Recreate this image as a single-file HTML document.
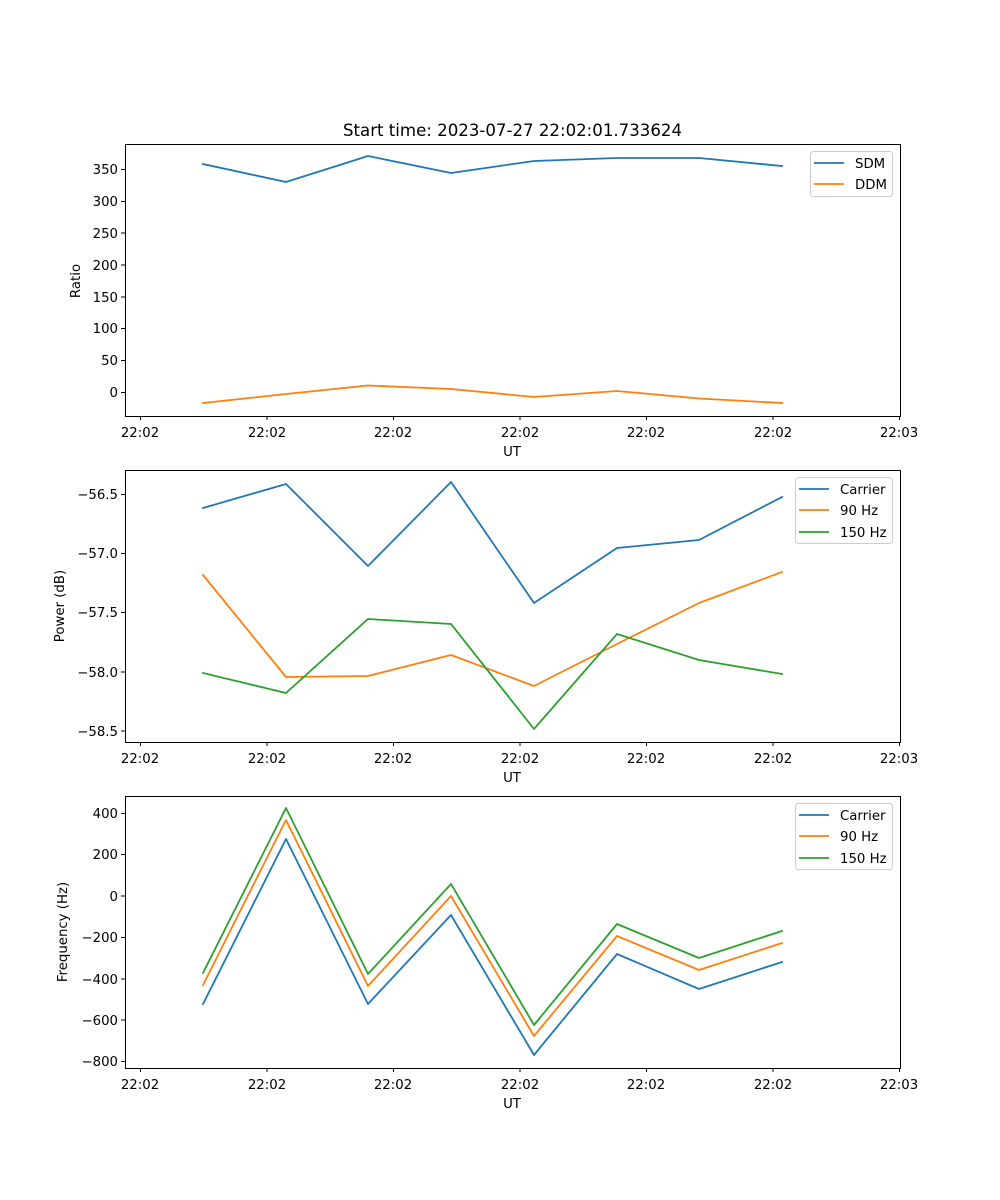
<!DOCTYPE html>
<html><head><meta charset="utf-8"><style>body{margin:0;background:#fff}svg{display:block}text{font-family:"DejaVu Sans","Liberation Sans",sans-serif;font-size:13.3px;fill:#000}</style></head><body>
<svg width="1000" height="1200" xmlns="http://www.w3.org/2000/svg">
<g fill="none" stroke-linejoin="round" stroke-linecap="square">
<polyline stroke="#1f77b4" stroke-width="1.8" points="203,164 286,182 368,156 451,173 534,161 617,158 699,158 782,166"/>
<polyline stroke="#ff7f0e" stroke-width="1.8" points="203,403 286,394 368,385.5 451,389 534,397 617,391 699,398.5 782,403"/>
<polyline stroke="#1f77b4" stroke-width="1.8" points="203,508 286,484 368,566 451,482 534,603 617,548 699,540 782,497"/>
<polyline stroke="#ff7f0e" stroke-width="1.8" points="203,575 286,677 368,676 451,655 534,686 617,644 699,603 782,572"/>
<polyline stroke="#2ca02c" stroke-width="1.8" points="203,673 286,693 368,619 451,624 534,729 617,634 699,660 782,674"/>
<polyline stroke="#1f77b4" stroke-width="1.8" points="203,1004 286,839 368,1004 451,915 534,1055 617,954 699,989 782,962"/>
<polyline stroke="#ff7f0e" stroke-width="1.8" points="203,985 286,820 368,986 451,896 534,1036 617,936 699,970 782,943"/>
<polyline stroke="#2ca02c" stroke-width="1.8" points="203,973 286,808 368,974 451,884 534,1025 617,924 699,958 782,931"/>
</g>
<g fill="none" stroke="#000" stroke-width="1">
<rect x="125.5" y="144.5" width="775" height="272"/>
<rect x="125.5" y="470.5" width="775" height="272"/>
<rect x="125.5" y="796.5" width="775" height="272"/>
<path d="M140.5,416v4M267,416v4M393.5,416v4M520,416v4M646.5,416v4M773,416v4M899.5,416v4
M140.5,742v4M267,742v4M393.5,742v4M520,742v4M646.5,742v4M773,742v4M899.5,742v4
M140.5,1068v4M267,1068v4M393.5,1068v4M520,1068v4M646.5,1068v4M773,1068v4M899.5,1068v4
M125,169.5h-4M125,201.5h-4M125,233h-4M125,265h-4M125,297h-4M125,328.5h-4M125,360.5h-4M125,392.5h-4
M125,494.5h-4M125,553.5h-4M125,612.5h-4M125,672h-4M125,731h-4
M125,813.5h-4M125,854.5h-4M125,896h-4M125,937.5h-4M125,979h-4M125,1020h-4M125,1061.5h-4"/>
</g>
<g text-anchor="middle">
<text x="140" y="437">22:02</text><text x="267" y="437">22:02</text><text x="393" y="437">22:02</text><text x="520" y="437">22:02</text><text x="646" y="437">22:02</text><text x="773" y="437">22:02</text><text x="899" y="437">22:03</text>
<text x="140" y="763">22:02</text><text x="267" y="763">22:02</text><text x="393" y="763">22:02</text><text x="520" y="763">22:02</text><text x="646" y="763">22:02</text><text x="773" y="763">22:02</text><text x="899" y="763">22:03</text>
<text x="140" y="1089">22:02</text><text x="267" y="1089">22:02</text><text x="393" y="1089">22:02</text><text x="520" y="1089">22:02</text><text x="646" y="1089">22:02</text><text x="773" y="1089">22:02</text><text x="899" y="1089">22:03</text>
<text x="512" y="456">UT</text><text x="512" y="782">UT</text><text x="512" y="1108">UT</text>
<text x="512.5" y="136" style="font-size:16.6px">Start time: 2023-07-27 22:02:01.733624</text>
</g>
<g text-anchor="end">
<text x="118" y="174">350</text><text x="118" y="206">300</text><text x="118" y="238">250</text><text x="118" y="270">200</text><text x="118" y="302">150</text><text x="118" y="333">100</text><text x="118" y="365">50</text><text x="118" y="397">0</text>
<text x="118" y="499">−56.5</text><text x="118" y="558">−57.0</text><text x="118" y="617">−57.5</text><text x="118" y="677">−58.0</text><text x="118" y="736">−58.5</text>
<text x="118" y="818">400</text><text x="118" y="859">200</text><text x="118" y="901">0</text><text x="118" y="942">−200</text><text x="118" y="984">−400</text><text x="118" y="1025">−600</text><text x="118" y="1066">−800</text>
</g>
<text transform="translate(80,281) rotate(-90)" text-anchor="middle">Ratio</text>
<text transform="translate(64,606) rotate(-90)" text-anchor="middle">Power (dB)</text>
<text transform="translate(67,932) rotate(-90)" text-anchor="middle">Frequency (Hz)</text>
<rect x="810.5" y="151.5" width="82" height="45" rx="3" fill="#fff" fill-opacity="0.8" stroke="#ccc"/>
<path d="M814,163h30" stroke="#1f77b4" stroke-width="1.8"/><path d="M814,184h30" stroke="#ff7f0e" stroke-width="1.8"/>
<text x="855" y="168">SDM</text><text x="855" y="189">DDM</text>
<g>
<rect x="795.5" y="477.5" width="97" height="66" rx="3" fill="#fff" fill-opacity="0.8" stroke="#ccc"/>
<path d="M799,489h30" stroke="#1f77b4" stroke-width="1.8"/><path d="M799,510h30" stroke="#ff7f0e" stroke-width="1.8"/><path d="M799,532h30" stroke="#2ca02c" stroke-width="1.8"/>
<text x="840" y="494">Carrier</text><text x="840" y="515">90 Hz</text><text x="840" y="537">150 Hz</text>
</g>
<g transform="translate(0,326)">
<rect x="795.5" y="477.5" width="97" height="66" rx="3" fill="#fff" fill-opacity="0.8" stroke="#ccc"/>
<path d="M799,489h30" stroke="#1f77b4" stroke-width="1.8"/><path d="M799,510h30" stroke="#ff7f0e" stroke-width="1.8"/><path d="M799,532h30" stroke="#2ca02c" stroke-width="1.8"/>
<text x="840" y="494">Carrier</text><text x="840" y="515">90 Hz</text><text x="840" y="537">150 Hz</text>
</g>
</svg>
</body></html>
